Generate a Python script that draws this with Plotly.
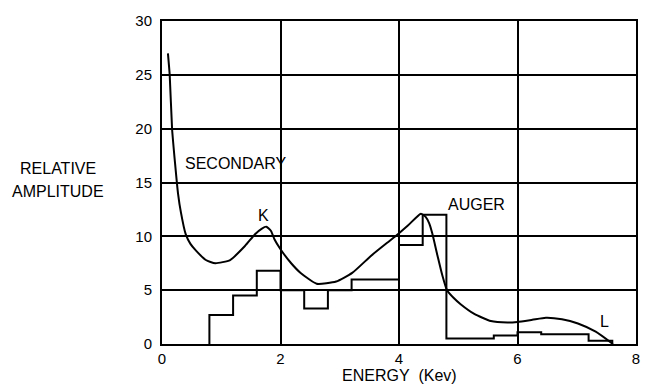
import plotly.graph_objects as go

# Histogram (step) data
bin_edges = [0.8, 1.2, 1.6, 2.0, 2.4, 2.8, 3.2, 4.0, 4.4, 4.8, 5.6, 6.0, 6.4, 7.2, 7.6]
bin_values = [2.7, 4.5, 6.8, 5.0, 3.3, 5.0, 6.0, 9.2, 12.0, 0.5, 0.8, 1.1, 0.9, 0.3]

# Secondary / Auger spectrum curve
curve_energy = [0.10, 0.13, 0.17, 0.22, 0.27, 0.32, 0.40, 0.48, 0.57, 0.74, 0.90, 1.15, 1.40, 1.57,
                1.68, 1.76, 1.84, 1.90, 2.00, 2.18, 2.34, 2.61, 2.94, 3.21, 3.53, 3.80, 3.94,
                4.15, 4.37, 4.45, 4.51, 4.56, 4.65, 4.73, 4.81, 4.92, 5.04, 5.27, 5.55, 5.83,
                6.00, 6.25, 6.48, 6.75, 7.02, 7.32, 7.61]
curve_amp = [27.0, 25.0, 20.0, 16.8, 14.0, 12.2, 10.2, 9.3, 8.7, 7.8, 7.5, 7.8, 9.1, 10.2,
             10.7, 10.9, 10.5, 9.7, 8.8, 7.5, 6.6, 5.6, 5.8, 6.6, 8.2, 9.4, 10.0,
             11.0, 12.1, 11.8, 11.2, 10.3, 8.2, 6.4, 5.0, 4.3, 3.7, 2.8, 2.13, 2.0,
             2.05, 2.25, 2.44, 2.3, 1.9, 1.14, 0.0]

x_ticks = [0, 2, 4, 6, 8]
y_ticks = [0, 5, 10, 15, 20, 25, 30]

# build step outline from histogram arrays
step_x = [bin_edges[0]] + bin_edges
step_y = [0] + bin_values + [0]

font_family = "Liberation Sans, Arial, sans-serif"

fig = go.Figure()
fig.add_trace(go.Scatter(x=step_x, y=step_y, mode="lines", line_shape="hv",
                         line=dict(color="black", width=2), hoverinfo="skip"))
fig.add_trace(go.Scatter(x=curve_energy, y=curve_amp, mode="lines", line_shape="spline",
                         line=dict(color="black", width=2, smoothing=0.5), hoverinfo="skip"))

fig.update_layout(
    width=652, height=392,
    margin=dict(l=162, r=16, t=13, b=48),
    paper_bgcolor="white", plot_bgcolor="white",
    showlegend=False,
    font=dict(family=font_family, color="black", size=15),
    xaxis=dict(range=[0, 8], tickvals=x_ticks, ticktext=[str(v) for v in x_ticks],
               showgrid=True, gridcolor="black", gridwidth=1.5,
               showline=True, linecolor="black", linewidth=2, mirror=True,
               zeroline=False, ticks="", ticklabelstandoff=0,
               tickfont=dict(size=15)),
    yaxis=dict(range=[0, 30], tickvals=y_ticks, ticktext=[str(v) for v in y_ticks],
               showgrid=True, gridcolor="black", gridwidth=1.5,
               showline=True, linecolor="black", linewidth=2, mirror=True,
               zeroline=False, ticks="", ticklabelstandoff=5,
               tickfont=dict(size=15)),
    annotations=[
        dict(text="SECONDARY", x=0.35, y=16.8, xref="x", yref="y", xanchor="left",
             yanchor="middle", showarrow=False, font=dict(size=16)),
        dict(text="K", x=1.72, y=11.9, xref="x", yref="y", xanchor="center", yanchor="middle",
             showarrow=False, font=dict(size=16)),
        dict(text="AUGER", x=5.30, y=12.95, xref="x", yref="y", xanchor="center", yanchor="middle",
             showarrow=False, font=dict(size=16)),
        dict(text="L", x=7.46, y=2.1, xref="x", yref="y", xanchor="center", yanchor="middle",
             showarrow=False, font=dict(size=16)),
        dict(text="RELATIVE", x=-0.219, y=0.544, xref="paper", yref="paper",
             xanchor="center", yanchor="middle", showarrow=False, font=dict(size=16)),
        dict(text="AMPLITUDE", x=-0.219, y=0.473, xref="paper", yref="paper",
             xanchor="center", yanchor="middle", showarrow=False, font=dict(size=16)),
        dict(text="ENERGY&nbsp; (Kev)", x=0.502, y=-0.098, xref="paper", yref="paper",
             xanchor="center", yanchor="middle", showarrow=False, font=dict(size=16)),
    ],
)

fig.write_html("out.html", config={"displayModeBar": False},
               post_script="document.body.style.margin='0';document.body.style.overflow='hidden';")
